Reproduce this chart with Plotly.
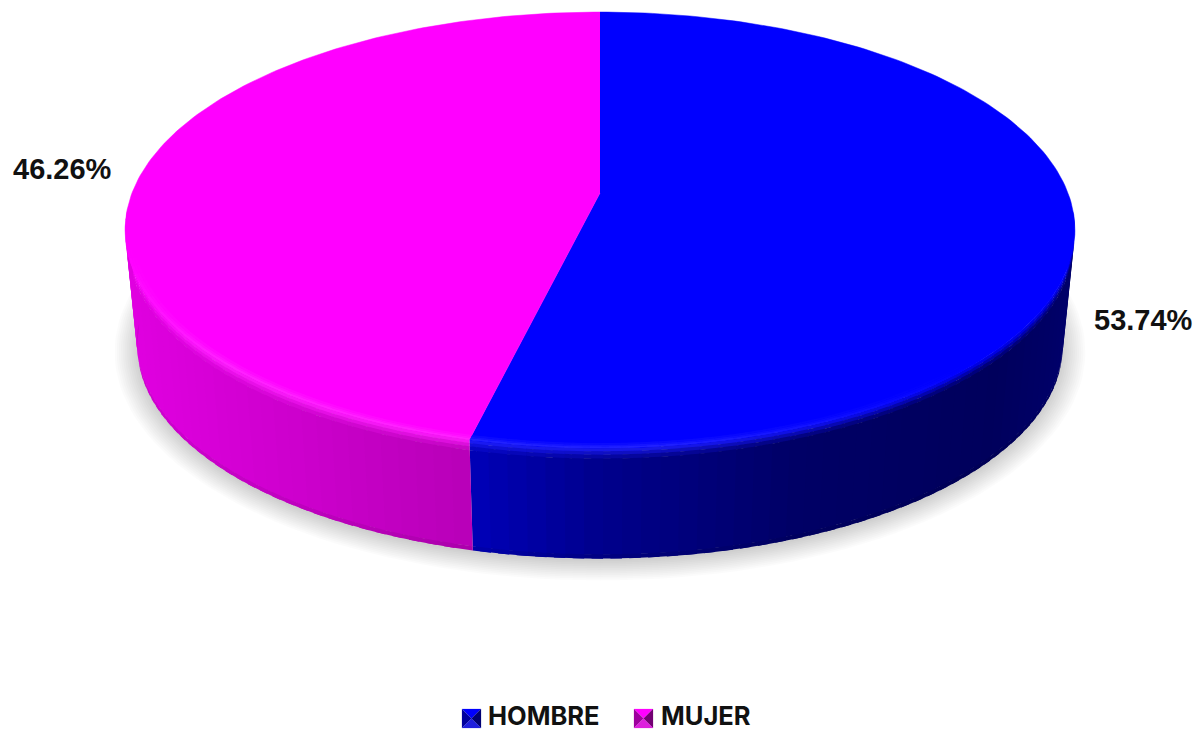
import numpy as np
import plotly.graph_objects as go

CATEGORIES = ["HOMBRE", "MUJER"]
SHARES = [53.74, 46.26]
LABELS = ["53.74%", "46.26%"]
BASE_COLORS = [(0, 0, 255), (255, 0, 255)]
LABEL_XY = [(1143, 320), (62, 169)]
KEY_X = [462, 634]
TEXT_X = [488, 661]
KEY_Y = (709, 728)
LEGEND_Y = 715

CX, TOP_Y0, TOP_R, TOP_H = 600.0, 193.0, 468.0, 211.7
BOT_Y0, BOT_R, BOT_H = 310.0, 456.0, 206.0
K = 0.17
SHADE_X = [120, 300, 470, 600, 800, 1000, 1080]
SHADE_F = [0.88, 0.80, 0.72, 0.55, 0.40, 0.36, 0.42]


def project(theta, r, R, y0, H):
    u, v = r * np.sin(theta), r * np.cos(theta)
    s = 1.0 / (1.0 + K * v)
    return CX + R * u * s, y0 - H * v * s


def rgb(c):
    return "rgb(%d,%d,%d)" % tuple(int(round(max(0, min(255, a)))) for a in c)


def mix(c, d, t):
    return tuple(a + (b - a) * t for a, b in zip(c, d))


def poly(fig, xs, ys, color, lw=0.5):
    fig.add_trace(go.Scatter(x=list(xs), y=list(ys), mode="lines", fill="toself",
                             fillcolor=color, line=dict(color=color, width=lw),
                             hoverinfo="skip", showlegend=False))


fig = go.Figure()

# soft shadow beneath the disc
for e in np.linspace(16, 0, 12):
    th = np.linspace(0, 2 * np.pi, 181)
    x, y = project(th, 1.0, BOT_R + e * 1.4, BOT_Y0 + 3, BOT_H + e)
    poly(fig, x, y, "rgba(0,0,0,0.014)", 0)

fr = np.cumsum([0] + SHARES) / sum(SHARES) * 2 * np.pi
STEP = np.radians(2.0)
BANDS = [(0.0, 0.03), (0.03, 0.06), (0.06, 0.095), (0.095, 0.965), (0.965, 1.0)]


def rim_strength(theta):
    return float(np.clip(np.interp(np.degrees(theta), [135, 175, 225, 255], [0, 1, 1, 0]), 0, 1))


def lerp(a, b, t):
    return a + (b - a) * t


# side wall: each strip overlaps the next one so no seams show
for i, base in enumerate(BASE_COLORS):
    a, b = max(fr[i], np.radians(95)), min(fr[i + 1], np.radians(265))
    n = max(2, int(np.ceil((b - a) / STEP)))
    edges = np.linspace(a, b, n + 1)
    for t0, t1 in zip(edges[:-1], edges[1:]):
        tm = (t0 + t1) / 2
        t1e = min(t1 + STEP * 0.6, b)
        xm, _ = project(tm, 1.0, TOP_R, TOP_Y0, TOP_H)
        f = float(np.interp(xm, SHADE_X, SHADE_F))
        body = tuple(c * f for c in base)
        hi = mix(base, (255, 255, 255), 0.12 * rim_strength(tm))
        xt0, yt0 = project(t0, 1.0, TOP_R, TOP_Y0, TOP_H)
        xt1, yt1 = project(t1e, 1.0, TOP_R, TOP_Y0, TOP_H)
        xb0, yb0 = project(t0, 1.0, BOT_R, BOT_Y0, BOT_H)
        xb1, yb1 = project(t1e, 1.0, BOT_R, BOT_Y0, BOT_H)
        for j, (s0, s1) in enumerate(BANDS):
            if j < 3:
                col = mix(hi, body, (j + 0.6) / 3.2)
            elif j == 3:
                col = body
            else:
                col = tuple(c * 0.93 for c in body)
            poly(fig,
                 [lerp(xt0, xb0, s0), lerp(xt1, xb1, s0), lerp(xt1, xb1, s1 + 0.004), lerp(xt0, xb0, s1 + 0.004)],
                 [lerp(yt0, yb0, s0), lerp(yt1, yb1, s0), lerp(yt1, yb1, s1 + 0.004), lerp(yt0, yb0, s1 + 0.004)],
                 rgb(col), 0)

# top surface
for i, base in enumerate(BASE_COLORS):
    th = np.linspace(fr[i], fr[i + 1], 181)
    x, y = project(th, 1.0, TOP_R, TOP_Y0, TOP_H)
    poly(fig, [CX] + list(x), [TOP_Y0] + list(y), rgb(base), 0.5)

# lighter rim along the front of the top surface
for i, base in enumerate(BASE_COLORS):
    a, b = max(fr[i], np.radians(135)), min(fr[i + 1], np.radians(255))
    n = max(2, int(np.ceil((b - a) / STEP)))
    edges = np.linspace(a, b, n + 1)
    for t0, t1 in zip(edges[:-1], edges[1:]):
        s = rim_strength((t0 + t1) / 2)
        t1e = min(t1 + STEP * 0.6, b)
        for r0, r1, amt in [(0.984, 0.990, 0.04), (0.990, 0.995, 0.08), (0.995, 1.0, 0.13)]:
            x0, y0 = project(np.array([t0, t1e]), r0, TOP_R, TOP_Y0, TOP_H)
            x1, y1 = project(np.array([t1e, t0]), r1, TOP_R, TOP_Y0, TOP_H)
            poly(fig, list(x0) + list(x1), list(y0) + list(y1),
                 rgb(mix(base, (255, 255, 255), amt * s)), 0)

# legend: bevelled keys and names
for name, base, kx, tx in zip(CATEGORIES, BASE_COLORS, KEY_X, TEXT_X):
    x0, x1, y0, y1 = kx, kx + 19, KEY_Y[0], KEY_Y[1]
    mx, my = (x0 + x1) / 2, (y0 + y1) / 2
    poly(fig, [x0, x1, mx], [y0, y0, my], rgb(base), 0.2)
    poly(fig, [x0, x0, mx], [y0, y1, my], rgb(tuple(c * 0.62 for c in base)), 0.2)
    poly(fig, [x1, x1, mx], [y0, y1, my], rgb(tuple(c * 0.45 for c in base)), 0.2)
    poly(fig, [x0, x1, mx], [y1, y1, my], rgb(mix(tuple(c * 0.85 for c in base), (255, 255, 255), 0.12)), 0.2)
    fig.add_annotation(x=tx, y=LEGEND_Y, text=name, showarrow=False, xref="x", yref="y", xanchor="left",
                       xshift=-2, font=dict(family="Inter", size=25.5, color="#111111", weight=700))

# percentage labels
for text, (lx, ly) in zip(LABELS, LABEL_XY):
    fig.add_annotation(x=lx, y=ly, text=text, showarrow=False, xref="x", yref="y",
                       font=dict(family="Liberation Sans", size=29, color="#111111", weight=700))

fig.update_layout(
    width=1196, height=730, margin=dict(l=0, r=0, t=0, b=0),
    paper_bgcolor="white", plot_bgcolor="white",
    xaxis=dict(range=[0, 1196], visible=False, fixedrange=True),
    yaxis=dict(range=[730, 0], visible=False, fixedrange=True),
    showlegend=False,
)
fig.write_html("out.html", config={"displayModeBar": False},
               post_script="document.body.style.margin='0';document.body.style.overflow='hidden';")
